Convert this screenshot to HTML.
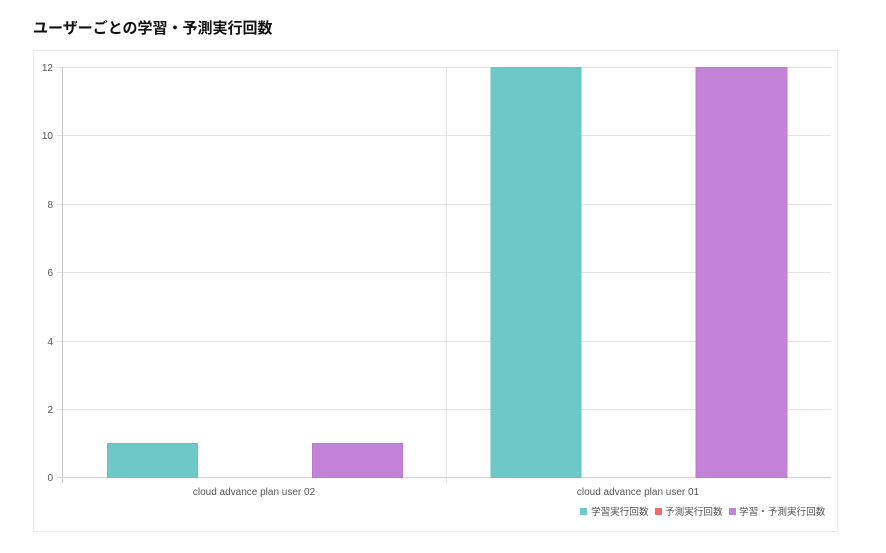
<!DOCTYPE html>
<html><head><meta charset="utf-8"><style>
html,body{margin:0;padding:0;background:#fff;}
body{width:886px;height:553px;position:relative;overflow:hidden;font-family:"Liberation Sans","Noto Sans CJK JP",sans-serif;}
h1{position:absolute;left:33px;top:17px;margin:0;font-size:15px;font-weight:bold;color:#111;}
.card{position:absolute;left:33px;top:50px;width:805px;height:482px;border:1px solid #ececec;box-sizing:border-box;}
svg{position:absolute;left:0;top:0;}
text{font-family:"Liberation Sans","Noto Sans CJK JP",sans-serif;fill:#555;}
</style></head><body>
<h1>ユーザーごとの学習・予測実行回数</h1>
<div class="card"></div>
<svg width="886" height="553" viewBox="0 0 886 553">
<g stroke="#e4e4e4" stroke-width="1">
<line x1="57" y1="67.5" x2="831" y2="67.5"/>
<line x1="57" y1="135.5" x2="831" y2="135.5"/>
<line x1="57" y1="204.5" x2="831" y2="204.5"/>
<line x1="57" y1="272.5" x2="831" y2="272.5"/>
<line x1="57" y1="341.5" x2="831" y2="341.5"/>
<line x1="57" y1="409.5" x2="831" y2="409.5"/>
<line x1="446.5" y1="67" x2="446.5" y2="483"/>
</g>
<line x1="62.5" y1="67" x2="62.5" y2="483" stroke="#c8c8c8"/>
<line x1="57" y1="477.5" x2="831" y2="477.5" stroke="#d8d8d8" stroke-width="1.5"/>
<g font-size="10" text-anchor="end">
<text x="53" y="71">12</text>
<text x="53" y="139">10</text>
<text x="53" y="208">8</text>
<text x="53" y="276">6</text>
<text x="53" y="345">4</text>
<text x="53" y="413">2</text>
<text x="53" y="481">0</text>
</g>
<g stroke-width="1">
<rect x="107.5" y="443.5" width="90" height="34" fill="#6cc9c8" stroke="#64c3c2"/>
<rect x="312.5" y="443.5" width="90" height="34" fill="#c482d6" stroke="#bc7acf"/>
<rect x="491" y="67.5" width="90" height="410" fill="#6cc9c8" stroke="#64c3c2"/>
<rect x="696" y="67.5" width="91" height="410" fill="#c482d6" stroke="#bc7acf"/>
</g>
<g font-size="10" text-anchor="middle">
<text x="254" y="495">cloud advance plan user 02</text>
<text x="638" y="495">cloud advance plan user 01</text>
</g>
<g font-size="9.6">
<rect x="580" y="508" width="7" height="7" fill="#6cc9c8"/>
<text x="591" y="515">学習実行回数</text>
<rect x="655" y="508" width="7" height="7" fill="#f06b6b"/>
<text x="665" y="515">予測実行回数</text>
<rect x="729" y="508" width="7" height="7" fill="#c482d6"/>
<text x="739" y="515">学習・予測実行回数</text>
</g>
</svg>
</body></html>
